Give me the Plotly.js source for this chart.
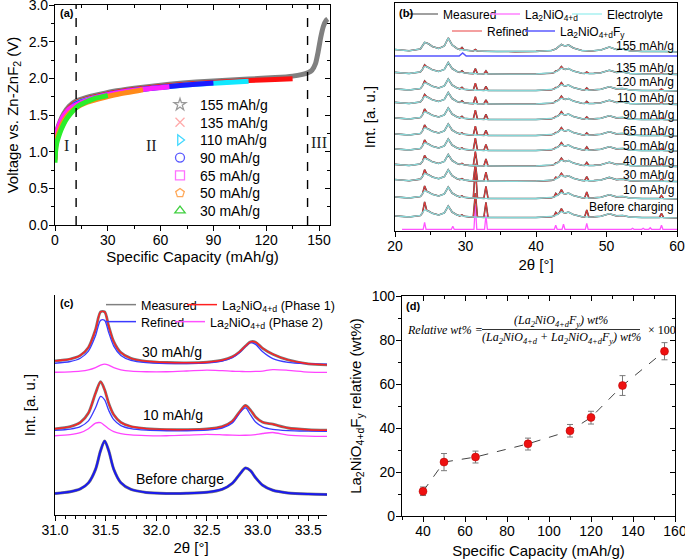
<!DOCTYPE html>
<html><head><meta charset="utf-8">
<script src="https://cdn.plot.ly/plotly-3.0.1.min.js"></script>
<style>html,body{margin:0;padding:0;background:#fff}#chart{width:685px;height:559px}</style>
</head><body><div id="chart"></div>
<script>
// ================= DATA =================
// ---- (a) charge curves: specific capacity (mAh/g) vs voltage (V)
const A_LABELS = ['155 mAh/g','135 mAh/g','110 mAh/g','90 mAh/g','65 mAh/g','50 mAh/g','30 mAh/g'];
const Q155 = [0,0.5,1.5,3,5,8,12,18,25,35,50,65,80,95,110,125,135,140,144,146,148,149.5,151,152.5,154,155];
const V155 = [1.0,1.2,1.32,1.42,1.52,1.62,1.69,1.74,1.78,1.83,1.88,1.92,1.95,1.97,1.99,2.01,2.03,2.05,2.08,2.11,2.2,2.36,2.56,2.71,2.79,2.81];
const Q135 = [0,0.5,1.5,3,5,8,12,18,25,35,50,65,80,95,110,125,135];
const V135 = [0.95,1.17,1.29,1.39,1.49,1.59,1.67,1.72,1.76,1.81,1.86,1.9,1.93,1.95,1.97,1.985,1.995];
const Q110 = [0,0.5,1.5,3,5,8,12,18,25,35,50,65,80,95,110];
const V110 = [0.95,1.15,1.27,1.37,1.47,1.57,1.66,1.71,1.75,1.8,1.85,1.89,1.92,1.94,1.96];
const Q90 = [0,0.5,1.5,3,5,8,12,18,25,35,50,65,80,90];
const V90 = [0.92,1.14,1.26,1.36,1.46,1.56,1.65,1.7,1.75,1.8,1.85,1.89,1.92,1.935];
const Q65 = [0,0.5,1.5,3,5,8,12,18,25,35,50,65];
const V65 = [0.9,1.2,1.3,1.4,1.49,1.58,1.64,1.7,1.75,1.8,1.85,1.885];
const Q50 = [0,0.5,1.5,3,5,8,12,18,25,35,50];
const V50 = [0.88,1.1,1.22,1.32,1.42,1.52,1.6,1.67,1.72,1.78,1.845];
const Q30 = [0,0.3,1,2,3.5,5,7,10,13,17,22,27,30];
const V30 = [0.85,1.0,1.12,1.2,1.3,1.38,1.46,1.55,1.62,1.67,1.72,1.75,1.765];
const REGION_BOUNDS = [12, 143.5];
const REGION_LABELS = ['I','II','III'];
const REGION_LABEL_X = [6.5, 55, 150];

// ---- (b) XRD patterns (intensity above each pattern's baseline, a.u.)
const X_B = [20,22,23.6,23.9,24.2,24.5,24.8,25.3,26.2,27.0,27.55,28.1,28.8,29.2,29.5,29.8,30.5,31.1,31.4,31.7,32.2,32.6,32.9,33.2,34.5,37,40,42.2,42.55,42.8,43.05,43.3,43.6,43.9,44.2,44.6,45.3,46.5,46.9,47.2,47.5,48.2,49.2,50.4,51.4,52.3,53.3,55,56.2,57.5,57.8,58.1,60];
const ELECTROLYTE = [2.5,1.2,3,6,9.5,9,8,5.5,3.5,6,14,7,3.5,2.5,2.5,2,1.3,1,1,0.9,0.8,0.7,0.7,0.6,0.5,0.4,0.6,1.5,2.2,3,4.5,6,7.5,6.5,6,7,4,1.5,1.2,1.2,1.1,1.3,2,5,2.5,3,1.2,0.6,0.8,0.6,0.7,0.5,0.2];
const LA_POS = [24.2,29.5,31.4,32.9,42.8,43.6,47.2,57.8];
const B_LABELS = ['Before charging','10 mAh/g','30 mAh/g','40 mAh/g','50 mAh/g','65 mAh/g','90 mAh/g','110 mAh/g','120 mAh/g','135 mAh/g','155 mAh/g'];
const B_LA_HEIGHTS = [
  [8,1,24,15,3,3,7,4],
  [5,1,30,12,3,3,6,3],
  [4,1,17,9,2,2,4,2],
  [3,1,14,7,1,2,3,2],
  [3,1,12,6,1,2,3,2],
  [3,1,9,5,1,2,2,1.5],
  [3,1.5,9,5,1,2,2,1.5],
  [2,1.5,7,4,1,2,2,1.5],
  [2,1.5,7,4,1,2,2,1.5],
  [1.5,1.5,5,3,1,1.5,1.5,1],
  [0,2,1.5,0.5,0,0,0,0]
];
const B_ELEC_SCALE = [0.85,0.85,0.85,0.85,0.85,0.85,0.85,0.85,0.85,0.85,1.0];
const FY_X = [20,29.1,29.6,30.1,60];
const FY_Y = [0,0,3,0,0];
const REF_X = [21,24.0,24.2,24.4,28.0,28.2,28.4,31.2,31.4,31.6,32.7,32.9,33.1,42.6,42.8,43.0,43.7,43.9,44.1,47.0,47.2,47.4,53.5,53.7,53.9,55.0,55.2,55.4,56.0,56.2,56.4,57.6,57.8,58.0,60];
const REF_Y = [0,0,7,0,0,3,0,0,24,0,0,14,0,0,4,0,0,5,0,0,6,0,0,1,0,0,1,0,0,1.5,0,0,4,0,0];

// ---- (c) zoomed XRD (intensity above baseline)
const X_C = [31.0,31.15,31.25,31.33,31.40,31.45,31.49,31.53,31.58,31.65,31.75,31.9,32.1,32.3,32.5,32.65,32.75,32.82,32.88,32.93,32.98,33.05,33.15,33.3,33.5,33.7];
const C_BEFORE = [1.6,3.3,6.1,12.1,25.6,44.4,54.1,44.4,25.7,12.3,5.6,2.6,1.6,1.7,2.7,5.7,11.7,20.3,27,24.3,17.3,9.7,4.7,2.1,1.0,0.6];
const C10_P1 = [2.2,4.4,8.6,18,37.8,49.4,41.3,27.8,16.3,8.7,4.5,2.4,1.45,1.4,2.1,4.45,9.75,18.8,25.5,20.9,14.1,8.8,6.8,3.0,1.3,0.7];
const C10_REF = [1.3,2.6,5.1,10.8,23.9,35.3,31.8,21.4,12.0,6.1,3.0,1.5,0.94,0.94,1.57,3.6,8.7,18.4,23.8,16.8,9.7,4.9,2.3,1.1,0.55,0.3];
const C10_P2 = [0.95,2.0,4.0,8.0,13.5,14.0,11.2,8.0,5.1,3.1,1.75,1.1,0.95,1.5,2.3,1.9,1.5,1.4,1.45,1.65,2.1,3.2,4.2,1.55,0.5,0.25];
const C30_P1 = [5.1,7.0,10.6,18.6,36.4,54.2,54.1,40.0,24.3,13.4,7.6,4.7,3.5,3.2,3.8,5.8,9.2,14.0,20.0,24.2,23.8,17.7,11.8,6.1,2.2,1.1];
const C30_REF = [1.75,3.5,6.8,13.8,29.2,44.6,44.6,32.4,18.9,9.5,4.6,2.3,1.45,1.4,2.1,4.0,7.3,12.2,18.6,22.4,20.6,13.2,6.4,2.7,1.3,0.7];
const C30_P2 = [0.45,0.85,1.5,2.75,5.1,7.5,8.5,7.5,5.15,2.9,1.5,0.95,0.95,1.7,2.6,2.0,1.45,1.25,1.15,1.15,1.25,1.65,3.05,2.4,0.65,0.3];
const C_LABELS = ['Before charge','10 mAh/g','30 mAh/g'];

// ---- (d) relative wt%
const D_CAP = [40,50,65,90,110,120,135,155];
const D_WT = [11.2,24.5,26.8,32.8,38.7,44.8,59.3,74.9];
const D_ERR_PLUS = [2.0,3.9,2.7,2.6,2.9,2.8,4.5,3.9];
const D_ERR_MINUS = [1.9,3.9,2.7,2.8,2.8,3.0,4.5,3.9];

// ================= LAYOUT HELPERS =================
const W = 685, H = 559;
const fx = p => p / W, fy = p => 1 - p / H;
const FONT = 'Arial, "Liberation Sans", sans-serif';
const LA = 'La<sub>2</sub>NiO<sub>4+d</sub>';
const traces = [];
const legends = {};
let legN = 0;
// one single-entry legend per key, placed in pixels (legend left x, row centre y)
function newLegend(leftX, rowY, size) {
  legN += 1;
  const id = legN === 1 ? 'legend' : 'legend' + legN;
  legends[id] = {bgcolor:'rgba(0,0,0,0)', borderwidth:0, itemwidth:30,
    font:{size:size, color:'#000', family:FONT}, xanchor:'left', yanchor:'middle',
    x:fx(leftX), y:fy(rowY)};
  return id;
}

// ---- (a)
const A_Q = [Q155,Q135,Q110,Q90,Q65,Q50,Q30];
const A_V = [V155,V135,V110,V90,V65,V50,V30];
const A_COL = ['#808080','#ff1010','#10e8ff','#1a1aff','#ff20ff','#ff8a1a','#2aee2a'];
const A_SYM = ['star-open','x-thin-open','triangle-right-open','circle-open','square-open','pentagon-open','triangle-up-open'];
const A_MCOL = ['#9a9a9a','#ffaaaa','#40d8ff','#5a5aff','#ff70ff','#ffa858','#40d040'];
const A_ROWS = [105,122.7,140.4,158,175.7,193.4,211];
A_Q.forEach((q, i) => traces.push({type:'scatter', mode:'lines', x:q, y:A_V[i], xaxis:'x', yaxis:'y',
  line:{color:A_COL[i], width:5, shape:'spline', smoothing:0.6}, showlegend:false, hoverinfo:'skip'}));
A_LABELS.forEach((t, i) => traces.push({type:'scatter', mode:'markers', x:[null], y:[null], xaxis:'x', yaxis:'y',
  name:t, legend:newLegend(160, A_ROWS[i], 14), marker:{symbol:A_SYM[i], size:9, color:A_MCOL[i], line:{color:A_MCOL[i], width:1.3}}}));
traces.push({type:'scatter', x:[], y:[], xaxis:'x5', yaxis:'y5', showlegend:false, hoverinfo:'skip'});

// ---- (b)
const B_OFFSET = [13,32,49.3,64.5,80,95,111,126.5,140,156.5,179];
const B_LABEL_PX = [207.3,190,175,160.7,145.7,130.7,115,98.3,81.7,68.3,45.7];
const B_BOTTOM_PX = 231;
const FY_OFFSET = 175, REF_OFFSET = 1.7;
traces.push({type:'scatter', mode:'lines', x:REF_X, y:REF_Y.map(v=>v+REF_OFFSET), xaxis:'x2', yaxis:'y2',
  line:{color:'#ff55ff', width:1.3}, showlegend:false, hoverinfo:'skip'});
traces.push({type:'scatter', mode:'lines', x:FY_X, y:FY_Y.map(v=>v+FY_OFFSET), xaxis:'x2', yaxis:'y2',
  line:{color:'#5555ff', width:1.6}, showlegend:false, hoverinfo:'skip'});
B_LABELS.forEach((lab, i) => {
  const elec = ELECTROLYTE.map(v => v * B_ELEC_SCALE[i]);
  const tot = elec.slice();
  LA_POS.forEach((p, k) => { tot[X_B.indexOf(p)] += B_LA_HEIGHTS[i][k]; });
  const o = B_OFFSET[i];
  traces.push({type:'scatter', mode:'lines', x:X_B, y:tot.map(v=>v+o), xaxis:'x2', yaxis:'y2',
    line:{color:'#3d4a4a', width:1.6}, showlegend:false, hoverinfo:'skip'});
  traces.push({type:'scatter', mode:'lines', x:X_B, y:tot.map(v=>v+o), xaxis:'x2', yaxis:'y2',
    line:{color:'#e23a3a', width:1.1}, showlegend:false, hoverinfo:'skip'});
  traces.push({type:'scatter', mode:'lines', x:X_B, y:elec.map(v=>v+o), xaxis:'x2', yaxis:'y2',
    line:{color:'#86d6d6', width:1.3}, showlegend:false, hoverinfo:'skip'});
});
const legB = [
  ['Measured','#808080',403,14],[LA,'#ff80ff',485,14],['Electrolyte','#a8f0f0',567,14],
  ['Refined','#f08080',447,31],[LA+'F<sub>y</sub>','#5a5aff',520,31]];
legB.forEach(([n,c,lx,ty]) => traces.push({type:'scatter', mode:'lines', x:[null], y:[null], xaxis:'x2', yaxis:'y2',
  name:n, legend:newLegend(lx, ty, 12), line:{color:c, width:1.5}}));

// ---- (c)
const C_OFF = {before:20, p1_10:84, ref_10:83.3, p2_10:78.3, p1_30:149, ref_30:150, p2_30:142.3};
const cl = (y, off, color, width) => ({type:'scatter', mode:'lines', x:X_C, y:y.map(v=>v+off), xaxis:'x3', yaxis:'y3',
  line:{color:color, width:width, shape:'spline', smoothing:0.8}, showlegend:false, hoverinfo:'skip'});
traces.push(cl(C_BEFORE, C_OFF.before, '#7a7a7a', 3));
traces.push(cl(C_BEFORE, C_OFF.before, '#1a1aee', 2));
traces.push(cl(C10_P2, C_OFF.p2_10, '#ff44ff', 1.3));
traces.push(cl(C10_P1, C_OFF.p1_10, '#7a7a7a', 2.8));
traces.push(cl(C10_REF, C_OFF.ref_10, '#3a3aff', 1.3));
traces.push(cl(C10_P1, C_OFF.p1_10, '#ff2020', 1.4));
traces.push(cl(C30_P2, C_OFF.p2_30, '#ff44ff', 1.3));
traces.push(cl(C30_P1, C_OFF.p1_30, '#7a7a7a', 2.8));
traces.push(cl(C30_REF, C_OFF.ref_30, '#3a3aff', 1.3));
traces.push(cl(C30_P1, C_OFF.p1_30, '#ff2020', 1.4));
const legC = [
  ['Measured','#808080',101,305],[LA+' (Phase 1)','#ff2020',182,305],
  ['Refined','#3a3aff',101,322],[LA+' (Phase 2)','#ff50ff',170,322]];
legC.forEach(([n,c,lx,ty]) => traces.push({type:'scatter', mode:'lines', x:[null], y:[null], xaxis:'x3', yaxis:'y3',
  name:n, legend:newLegend(lx, ty, 12.5), line:{color:c, width:1.5}}));

// ---- (d)
traces.push({type:'scatter', mode:'lines+markers', x:D_CAP, y:D_WT, xaxis:'x4', yaxis:'y4',
  line:{color:'#444', width:1, dash:'dash'},
  marker:{color:'#ee1111', size:8, line:{color:'#b00000', width:0.5}},
  error_y:{type:'data', array:D_ERR_PLUS, arrayminus:D_ERR_MINUS, color:'#7a7a7a', thickness:1, width:3},
  showlegend:false, hoverinfo:'skip'});
traces.push({type:'scatter', x:[], y:[], xaxis:'x6', yaxis:'y6', showlegend:false, hoverinfo:'skip'});

// ================= AXES =================
const base = {showgrid:false, zeroline:false, showline:true, linecolor:'#000', linewidth:1.1, automargin:false,
  ticks:'outside', ticklen:5, tickwidth:1, tickcolor:'#000', ticklabeloverflow:'allow',
  tickfont:{size:14, color:'#000', family:FONT}};
const xb = Object.assign({}, base, {ticklabelstandoff:-3});
const yb = Object.assign({}, base, {ticklabelstandoff:-2});
const ttl = (t, s) => ({text:t, standoff:s, font:{size:15, color:'#000', family:FONT}});
const overlayX = (ov, anc, range, dtick, mdt) => ({overlaying:ov, anchor:anc, side:'top', range:range, dtick:dtick,
  ticks:'inside', ticklen:5, tickcolor:'#000', minor:{ticks:'inside', dtick:mdt, ticklen:3, tickcolor:'#000'},
  showticklabels:false, showline:false, showgrid:false, zeroline:false});
const overlayY = (ov, anc, range, dtick, mdt) => ({overlaying:ov, anchor:anc, side:'right', range:range, dtick:dtick,
  ticks:'inside', ticklen:5, tickcolor:'#000', minor:{ticks:'inside', dtick:mdt, ticklen:3, tickcolor:'#000'},
  showticklabels:false, showline:false, showgrid:false, zeroline:false});

const annotations = [];
const ann = (o) => annotations.push(Object.assign({showarrow:false, font:{size:14, color:'#000', family:FONT}}, o));
[['(a)',58,13],['(b)',397,13],['(c)',58,303],['(d)',404,306]].forEach(([t,x,y]) =>
  ann({text:'<b>'+t+'</b>', xref:'paper', yref:'paper', x:fx(x), y:fy(y), xanchor:'left', yanchor:'middle', font:{size:11, color:'#000', family:FONT}}));
REGION_LABELS.forEach((t, i) => ann({text:t, xref:'x', yref:'y', x:REGION_LABEL_X[i], y:i===2?1.13:1.08,
  xanchor:'center', yanchor:'middle', font:{size:16, color:'#222', family:'"Liberation Serif", "DejaVu Serif", serif'}}));
B_LABELS.forEach((t, i) => ann({text:t, xref:'x2', yref:'y2', x:59.8, y:B_BOTTOM_PX - B_LABEL_PX[i], xanchor:'right', yanchor:'middle',
  font:{size:12, color:'#000', family:FONT}}));
[[C_LABELS[0],32.23,36],[C_LABELS[1],32.165,100],[C_LABELS[2],32.155,163.3]].forEach(([t,x,y]) =>
  ann({text:t, xref:'x3', yref:'y3', x:x, y:y, xanchor:'center', yanchor:'middle', font:{size:14, color:'#000', family:FONT}}));
const SERIF = '"Liberation Serif", "DejaVu Serif", serif';
const FS = {size:12, color:'#000', family:SERIF};
ann({text:'<i>Relative wt% =</i>', xref:'paper', yref:'paper', x:fx(405), y:fy(330), xanchor:'left', yanchor:'middle', font:FS});
ann({text:'<i>(La<sub>2</sub>NiO<sub>4+d</sub>F<sub>y</sub>) wt%</i>', xref:'paper', yref:'paper', x:fx(561), y:fy(321), xanchor:'center', yanchor:'middle', font:FS});
ann({text:'<i>(La<sub>2</sub>NiO<sub>4+d</sub> + La<sub>2</sub>NiO<sub>4+d</sub>F<sub>y</sub>) wt%</i>', xref:'paper', yref:'paper', x:fx(561), y:fy(338), xanchor:'center', yanchor:'middle', font:FS});
ann({text:'× 100', xref:'paper', yref:'paper', x:fx(646), y:fy(330), xanchor:'left', yanchor:'middle', font:FS});

const shapes = [
  ...REGION_BOUNDS.map(b => ({type:'line', xref:'x', yref:'y', x0:b, x1:b, y0:0, y1:3, line:{color:'#000', width:1.4, dash:'dash'}})),
  {type:'line', xref:'paper', yref:'paper', x0:fx(482), x1:fx(640), y0:fy(329.5), y1:fy(329.5), line:{color:'#000', width:0.8}}
];

const layout = Object.assign({
  width:W, height:H, margin:{l:0,r:0,t:0,b:0,autoexpand:false}, paper_bgcolor:'#fff', plot_bgcolor:'#fff',
  font:{family:FONT, color:'#000'},
  xaxis: Object.assign({}, xb, {domain:[fx(55),fx(330)], anchor:'y', range:[0,156.25], dtick:30, tick0:0, mirror:true,
    minor:{ticks:'outside', dtick:15, ticklen:3, tickcolor:'#000'}, title:ttl('Specific Capacity (mAh/g)', 0)}),
  yaxis: Object.assign({}, yb, {domain:[fy(225),fy(5)], anchor:'x', range:[0,3], dtick:0.5, tickformat:'.1f', mirror:true,
    minor:{ticks:'outside', dtick:0.25, ticklen:3, tickcolor:'#000'}, title:ttl('Voltage vs. Zn-ZnF<sub>2</sub> (V)', 6)}),
  xaxis5: overlayX('x','y5',[0,156.25],30,15),
  yaxis5: overlayY('y','x5',[0,3],0.5,0.25),
  xaxis2: Object.assign({}, xb, {domain:[fx(395),fx(677)], anchor:'y2', range:[20,60], dtick:10, mirror:true,
    minor:{ticks:'outside', dtick:5, ticklen:3, tickcolor:'#000'}, title:ttl('2θ [°]', 6)}),
  yaxis2: Object.assign({}, yb, {domain:[fy(231),fy(3)], anchor:'x2', range:[0,228], ticks:'', showticklabels:false, mirror:true,
    title:ttl('Int. [a. u.]', 14)}),
  xaxis3: Object.assign({}, xb, {domain:[fx(55),fx(327)], anchor:'y3', range:[31,33.685], dtick:0.5, tick0:31, tickformat:'.1f',
    minor:{ticks:'outside', dtick:0.1, ticklen:3, tickcolor:'#000'}, title:ttl('2θ [°]', 5)}),
  yaxis3: Object.assign({}, yb, {domain:[fy(515),fy(295)], anchor:'x3', range:[0,220], ticks:'', showticklabels:false,
    title:ttl('Int. [a. u.]', 14)}),
  xaxis4: Object.assign({}, xb, {domain:[fx(402),fx(675)], anchor:'y4', range:[30,160], dtick:20, tick0:0, mirror:true,
    minor:{ticks:'outside', dtick:10, ticklen:3, tickcolor:'#000'}, title:ttl('Specific Capacity (mAh/g)', 8)}),
  yaxis4: Object.assign({}, yb, {domain:[fy(516),fy(296)], anchor:'x4', range:[0,100], dtick:20, mirror:true,
    minor:{ticks:'outside', dtick:10, ticklen:3, tickcolor:'#000'},
    title:ttl('La<sub>2</sub>NiO<sub>4+d</sub>F<sub>y</sub> relative (wt%)', 6)}),
  xaxis6: overlayX('x4','y6',[30,160],20,10),
  yaxis6: overlayY('y4','x6',[0,100],20,10),
  annotations: annotations,
  shapes: shapes,
  showlegend: true
}, legends);
Plotly.newPlot('chart', traces, layout, {displayModeBar:false, staticPlot:true});
</script></body></html>
